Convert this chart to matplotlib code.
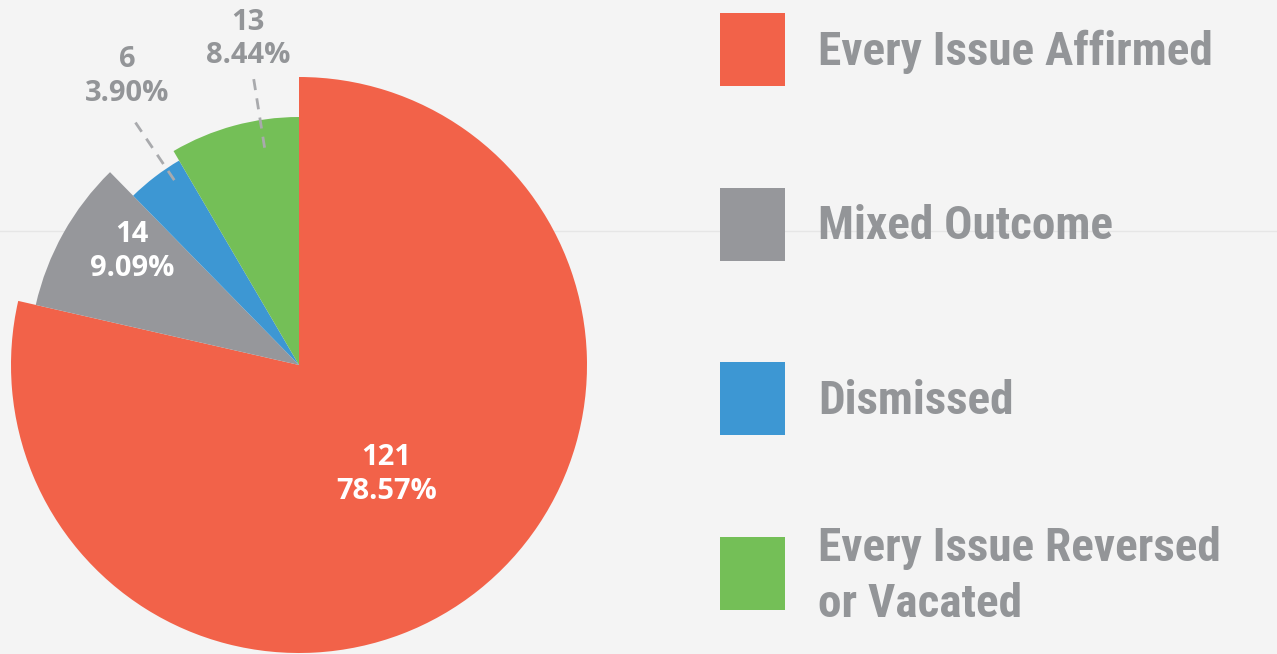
import matplotlib
matplotlib.use("Agg")
import matplotlib.pyplot as plt
from matplotlib.patches import Rectangle
import numpy as np

# data
categories = ["Every Issue Affirmed", "Mixed Outcome", "Dismissed",
              "Every Issue Reversed\nor Vacated"]
counts = [121, 14, 6, 13]

# style
colors = ["#f26249", "#96979b", "#3d97d3", "#74bf57"]
radii = [288, 270, 237, 248]                 # each slice has its own radius (px)
label_dang = [0, -5, -6.7, -6.3]             # label angle nudges (deg)
label_r = [140, 202, 336, 330]               # label distance from centre (px)
label_col = ["white", "white", "#939598", "#939598"]
leader = {2: (223, 296, 124.0), 3: (220, 292, 99.0)}   # r0, r1, angle
bg = "#f4f4f4"
txt_grey = "#939598"
legend_font = ["Roboto Condensed", "Archivo Narrow", "Liberation Sans Narrow",
               "DejaVu Sans"]

W, H = 1277, 654
cx, cy = 299, H - 365

fig = plt.figure(figsize=(W / 100, H / 100), dpi=100, facecolor=bg)
ax = fig.add_axes([0, 0, 1, 1])
ax.set_facecolor(bg)

wedges, _ = ax.pie(counts, colors=colors, startangle=90, counterclock=False,
                   center=(cx, cy), radius=radii[0],
                   wedgeprops=dict(linewidth=0))
for w, r in zip(wedges, radii):
    w.set_radius(r)

ax.set_xlim(0, W)
ax.set_ylim(0, H)
ax.set_aspect("equal")
ax.axis("off")

# faint slide line in the background
ax.axhline(H - 231, color="#e6e6e6", lw=1, zorder=0)

total = sum(counts)
for i, (w, c) in enumerate(zip(wedges, counts)):
    mid = (w.theta1 + w.theta2) / 2 + label_dang[i]
    a = np.deg2rad(mid)
    x = cx + label_r[i] * np.cos(a)
    y = cy + label_r[i] * np.sin(a)
    ax.text(x, y, f"{c}\n{c / total * 100:.2f}%", ha="center", va="center",
            color=label_col[i], fontsize=21, fontfamily="Open Sans",
            fontweight="bold", linespacing=1.22, zorder=5)
    if i in leader:
        r0, r1, ang = leader[i]
        a = np.deg2rad(ang)
        ax.plot([cx + r0 * np.cos(a), cx + r1 * np.cos(a)],
                [cy + r0 * np.sin(a), cy + r1 * np.sin(a)],
                color="#a9aaad", lw=2, ls=(0, (4, 3)), zorder=4)

# legend drawn by hand
for i, (lab, col) in enumerate(zip(categories, colors)):
    top = 13 + i * 174.7
    ax.add_patch(Rectangle((720, H - top - 73), 65, 73, color=col, lw=0))
    centre = top + 36.5
    lines = lab.split("\n")
    base = centre + 15 - (len(lines) - 1) * 28
    for j, ln in enumerate(lines):
        ax.text(818, H - (base + j * 56), ln, ha="left", va="baseline",
                color=txt_grey, fontsize=34, fontweight="bold",
                fontfamily=legend_font)

fig.savefig("out.png", dpi=100, facecolor=bg)
